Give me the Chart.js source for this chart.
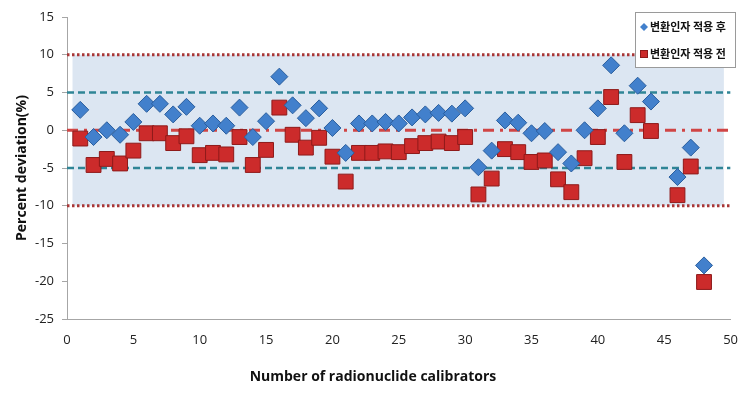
<!DOCTYPE html>
<html>
<head>
<meta charset="utf-8">
<script src="https://cdn.jsdelivr.net/npm/chart.js@4/dist/chart.umd.min.js"></script>
<style>
html,body{margin:0;padding:0;background:#fff;}
#wrap{width:751px;height:400px;position:relative;}
</style>
</head>
<body>
<div id="wrap"><canvas id="c" width="751" height="400"></canvas></div>
<script>
// ---- data ----
const calibrators = [1,2,3,4,5,6,7,8,9,10,11,12,13,14,15,16,17,18,19,20,21,22,23,24,25,26,27,28,29,30,31,32,33,34,35,36,37,38,39,40,41,42,43,44,45,46,47,48];
const afterValues = [2.7,-0.9,0.0,-0.6,1.1,3.5,3.5,2.1,3.1,0.6,0.9,0.6,3.0,-0.9,1.2,7.1,3.3,1.6,2.9,0.3,-3.0,0.9,0.9,1.1,0.9,1.7,2.1,2.3,2.2,2.9,-4.9,-2.7,1.3,1.0,-0.4,-0.1,-2.9,-4.4,0.0,2.9,8.6,-0.4,5.9,3.8,null,-6.2,-2.3,-17.9];
const beforeValues = [-1.1,-4.6,-3.8,-4.4,-2.7,-0.4,-0.4,-1.7,-0.8,-3.3,-3.0,-3.2,-0.9,-4.6,-2.6,3.0,-0.6,-2.3,-1.0,-3.5,-6.8,-3.0,-3.0,-2.8,-2.9,-2.1,-1.7,-1.5,-1.7,-0.9,-8.5,-6.4,-2.5,-2.9,-4.2,-4.0,-6.5,-8.2,-3.7,-0.9,4.4,-4.2,2.0,-0.1,null,-8.6,-4.8,-20.1];
const seriesNames = ['변환인자 적용 후','변환인자 적용 전'];
const outerLimit = [10,-10];
const innerLimit = [5,-5];
const centerLine = [0];
const lineSpan = [0,50];
const bandSpan = [0.4,49.5];
const xTicks = [0,50,5];
const yTicks = [-25,15,5];

const pts = (vals) => calibrators.map((x,i)=>({x:x,y:vals[i]})).filter(p=>p.y!==null);
const hline = (v) => lineSpan.map(x=>({x:x,y:v}));

const blue='#4280cc', blueB='#2a5e9e', red='#cc2b2b', redB='#8e1a1a';

const datasets = [
  {label:'band', data: bandSpan.map(x=>({x:x,y:outerLimit[0]})), showLine:true, pointRadius:0, borderWidth:0, backgroundColor:'#dce6f2', fill:{value:outerLimit[1]}, order:20},
  {label:'u10', data: hline(outerLimit[0]), showLine:true, pointRadius:0, borderColor:'#a83636', borderWidth:3, borderDash:[2.5,2.5], order:10},
  {label:'l10', data: hline(outerLimit[1]), showLine:true, pointRadius:0, borderColor:'#a83636', borderWidth:3, borderDash:[2.5,2.5], order:10},
  {label:'u5', data: hline(innerLimit[0]), showLine:true, pointRadius:0, borderColor:'#2f8596', borderWidth:2.5, borderDash:[7,4], order:10},
  {label:'l5', data: hline(innerLimit[1]), showLine:true, pointRadius:0, borderColor:'#2f8596', borderWidth:2.5, borderDash:[7,4], order:10},
  {label:'z', data: hline(centerLine[0]), showLine:true, pointRadius:0, borderColor:'#d04545', borderWidth:3, borderDash:[11,6,3,6], order:10},
  {label:seriesNames[1], data: pts(beforeValues), pointStyle:'rect', pointRadius:10.5, pointHoverRadius:10.5, backgroundColor:red, borderColor:redB, borderWidth:1, showLine:false, order:2},
  {label:seriesNames[0], data: pts(afterValues), pointStyle:'rectRot', pointRadius:8.5, pointHoverRadius:8.5, backgroundColor:blue, borderColor:blueB, borderWidth:1, showLine:false, order:1}
];

const FONT = "'Open Sans', 'Noto Sans', sans-serif";

const extras = {
  id:'extras',
  afterDraw(chart){
    const ctx = chart.ctx;
    const ca = chart.chartArea;
    ctx.save();
    ctx.fillStyle='#111';
    ctx.font = "bold 14px " + FONT;
    ctx.textAlign='center'; ctx.textBaseline='middle';
    ctx.fillText('Number of radionuclide calibrators', 373, 377);
    ctx.translate(22, (ca.top+ca.bottom)/2);
    ctx.rotate(-Math.PI/2);
    ctx.fillText('Percent deviation(%)', 0, 0);
    ctx.restore();
    // legend
    ctx.save();
    const lx=635, ly=12, lw=100, lh=55;
    ctx.fillStyle='#fff'; ctx.fillRect(lx,ly,lw,lh);
    ctx.strokeStyle='#9a9a9a'; ctx.lineWidth=1; ctx.strokeRect(lx+0.5,ly+0.5,lw,lh);
    const d = (cx,cy,r)=>{ctx.beginPath();ctx.moveTo(cx,cy-r);ctx.lineTo(cx+r,cy);ctx.lineTo(cx,cy+r);ctx.lineTo(cx-r,cy);ctx.closePath();};
    ctx.fillStyle=blue; d(644,27,4); ctx.fill();
    ctx.fillStyle=red; ctx.fillRect(640,50,8,8); ctx.strokeStyle=redB; ctx.strokeRect(640.5,50.5,7,7);
    ctx.fillStyle='#111';
    ctx.font="bold 11px 'Noto Sans CJK KR', sans-serif";
    ctx.textAlign='left'; ctx.textBaseline='middle';
    ctx.fillText(seriesNames[0], 650, 27);
    ctx.fillText(seriesNames[1], 650, 54);
    ctx.restore();
  }
};

new Chart(document.getElementById('c'), {
  type:'scatter',
  data:{datasets:datasets},
  options:{
    responsive:false, animation:false,
    layout:{autoPadding:false, padding:{left:0,top:17,right:16,bottom:0}},
    plugins:{legend:{display:false}, tooltip:{enabled:false}},
    scales:{
      x:{type:'linear', min:xTicks[0], max:xTicks[1],
         ticks:{stepSize:xTicks[2], color:'#222', font:{family:FONT,size:13}, padding:13},
         grid:{display:true, drawOnChartArea:false, drawTicks:false, color:'#a6a6a6'},
         border:{color:'#a6a6a6', width:1},
         afterFit(s){s.height=81;}},
      y:{type:'linear', min:yTicks[0], max:yTicks[1],
         ticks:{stepSize:yTicks[2], color:'#222', font:{family:FONT,size:13}, padding:8},
         grid:{display:true, drawOnChartArea:false, drawTicks:true, tickLength:5, color:'#a6a6a6'},
         border:{color:'#a6a6a6', width:1},
         afterFit(s){s.width=67;}}
    }
  },
  plugins:[extras]
});
</script>
</body>
</html>
